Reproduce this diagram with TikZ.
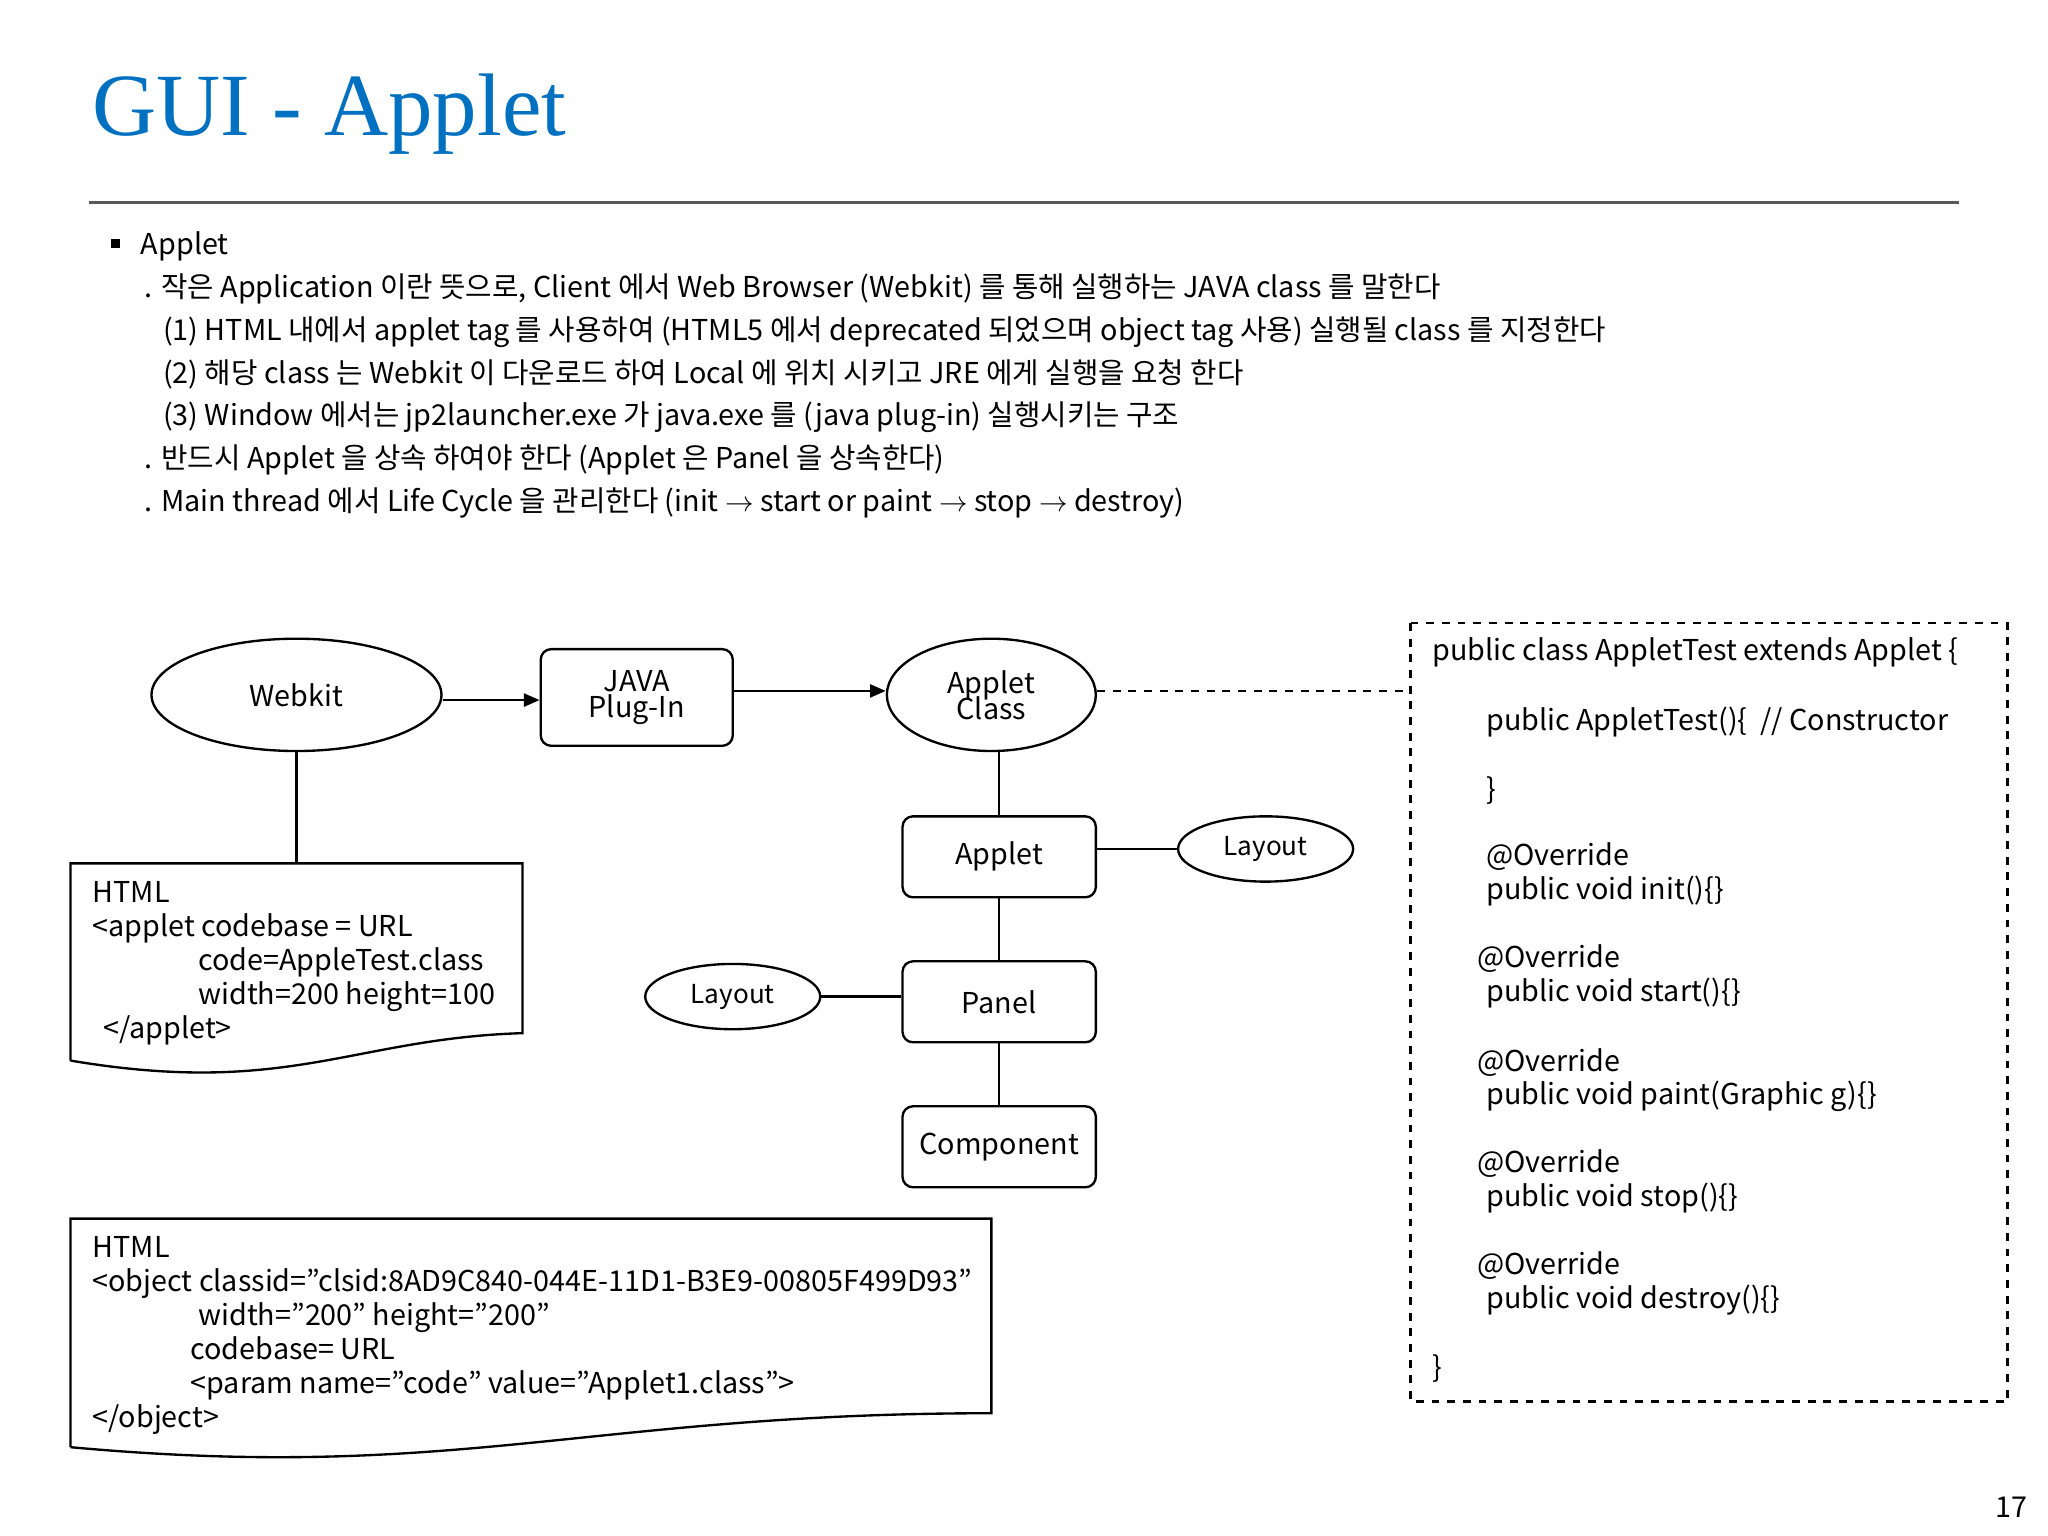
\documentclass[tikz,border=0pt]{standalone}
\usepackage{fontspec}
\setmainfont{Noto Sans CJK KR}
\newfontfamily\titlefont{Liberation Serif}
\usetikzlibrary{arrows.meta,shapes.geometric}
\definecolor{titleblue}{RGB}{0,112,192}
\begin{document}
\begin{tikzpicture}[x=0.5pt,y=-0.5pt,line width=0.9pt,
  txt/.style={anchor=base west,inner sep=0pt,font=\fontsize{11}{13}\selectfont},
  box/.style={draw,rounded corners=4pt,inner sep=0pt,align=center,font=\fontsize{11}{13}\selectfont},
  oval/.style={draw,ellipse,inner sep=0pt,align=center,font=\fontsize{11}{13}\selectfont},
  link/.style={-{Triangle[length=6pt,width=5pt]}}]
\useasboundingbox (0,0) rectangle (1568,1176);
% title
\node[anchor=base west,inner sep=0pt,text=titleblue,font=\titlefont\fontsize{34}{40}\selectfont] (title) at (70,104) {GUI - Applet};
\draw[gray!70!black] (68,155) -- (1500,155);
% bullet text
\fill (85,183) rectangle (92,190);
\node[txt] (t0) at (107,195) {Applet};
\node[txt] (t1) at (110,228) {. 작은 Application 이란 뜻으로, Client 에서 Web Browser (Webkit) 를 통해 실행하는 JAVA class 를 말한다};
\node[txt] (t2) at (124,261) {(1) HTML 내에서 applet tag 를 사용하여 (HTML5 에서 deprecated 되었으며 object tag 사용) 실행될 class 를 지정한다};
\node[txt] (t3) at (124,294) {(2) 해당 class 는 Webkit 이 다운로드 하여 Local 에 위치 시키고 JRE 에게 실행을 요청 한다};
\node[txt] (t4) at (124,326) {(3) Window 에서는 jp2launcher.exe 가 java.exe 를 (java plug-in) 실행시키는 구조};
\node[txt] (t5) at (110,359) {. 반드시 Applet 을 상속 하여야 한다 (Applet 은 Panel 을 상속한다)};
\node[txt] (t6) at (110,392) {. Main thread 에서 Life Cycle 을 관리한다 (init $\rightarrow$ start or paint $\rightarrow$ stop $\rightarrow$ destroy)};
% diagram nodes
\node[oval,minimum width=111pt,minimum height=43pt] (webkit) at (227,532) {Webkit};
\node[box,minimum width=73.5pt,minimum height=37pt] (plugin) at (487.5,534) {JAVA\\[-3pt]Plug-In};
\node[oval,minimum width=80pt,minimum height=43pt] (aclass) at (759,532) {Applet\\[-3pt]Class};
\node[box,minimum width=74pt,minimum height=31pt] (applet) at (765,656) {Applet};
\node[box,minimum width=74pt,minimum height=31pt] (panel) at (765,767) {Panel};
\node[box,minimum width=74pt,minimum height=31pt] (comp) at (765,878) {Component};
\node[oval,minimum width=67pt,minimum height=25pt,font=\fontsize{10}{12}\selectfont] (lay1) at (969,650) {Layout};
\node[oval,minimum width=67pt,minimum height=25pt,font=\fontsize{10}{12}\selectfont] (lay2) at (561,763) {Layout};
\coordinate (wk) at (227,661);
\coordinate (dashend) at (1080,529);
\draw[link] (webkit.east |- 0,536) -- (plugin.west |- 0,536);
\draw[link] (plugin.east |- 0,529) -- (aclass.west |- 0,529);
\draw[dashed] (aclass.east |- 0,529) -- (dashend);
\draw (webkit) -- (wk);
\draw (aclass.south -| applet.north) -- (applet.north);
\draw (applet) -- (panel);
\draw (panel) -- (comp);
\draw (applet.east |- lay1) -- (lay1);
\draw (lay2) -- (panel.west |- lay2);
% html documents
\draw (54,812) -- (54,661) -- (400,661) -- (400,791) .. controls (270,795) and (220,840) .. (54,812);
\begin{scope}[font=\fontsize{11}{13}\selectfont]
\node[txt] (h1) at (70,691) {HTML};
\node[txt] (h2) at (70,717) {<applet codebase = URL};
\node[txt] (h3) at (151,743) {code=AppleTest.class};
\node[txt] (h4) at (151,769) {width=200 height=100};
\node[txt] (h5) at (78,795) {</applet>};
\end{scope}
\draw (54,1108) -- (54,933) -- (759,933) -- (759,1082) .. controls (450,1082) and (350,1135) .. (54,1108);
\node[txt] (o1) at (70,963) {HTML};
\node[txt] (o2) at (70,989) {<object classid="clsid:8AD9C840-044E-11D1-B3E9-00805F499D93"};
\node[txt] (o3) at (151,1015) {width="200" height="200"};
\node[txt] (o4) at (145,1041) {codebase= URL};
\node[txt] (o5) at (145,1067) {<param name="code" value="Applet1.class">};
\node[txt] (o6) at (70,1093) {</object>};
% code box
\draw[dashed] (1080,477) rectangle (1537,1073);
\node[txt] (c1) at (1096,506) {public class AppletTest extends Applet \{};
\node[txt] (c2) at (1137,559) {public AppletTest()\{ \ // Constructor};
\node[txt] (c3) at (1137,612) {\}};
\node[txt] (c4) at (1137,663) {@Override};
\node[txt] (c5) at (1137,689) {public void init()\{\}};
\node[txt] (c6) at (1130,741) {@Override};
\node[txt] (c7) at (1137,767) {public void start()\{\}};
\node[txt] (c8) at (1130,820) {@Override};
\node[txt] (c9) at (1137,846) {public void paint(Graphic g)\{\}};
\node[txt] (c10) at (1130,898) {@Override};
\node[txt] (c11) at (1137,924) {public void stop()\{\}};
\node[txt] (c12) at (1130,976) {@Override};
\node[txt] (c13) at (1137,1002) {public void destroy()\{\}};
\node[txt] (c14) at (1096,1055) {\}};
\node[txt] (pg) at (1527,1162) {17};
\end{tikzpicture}
\end{document}
